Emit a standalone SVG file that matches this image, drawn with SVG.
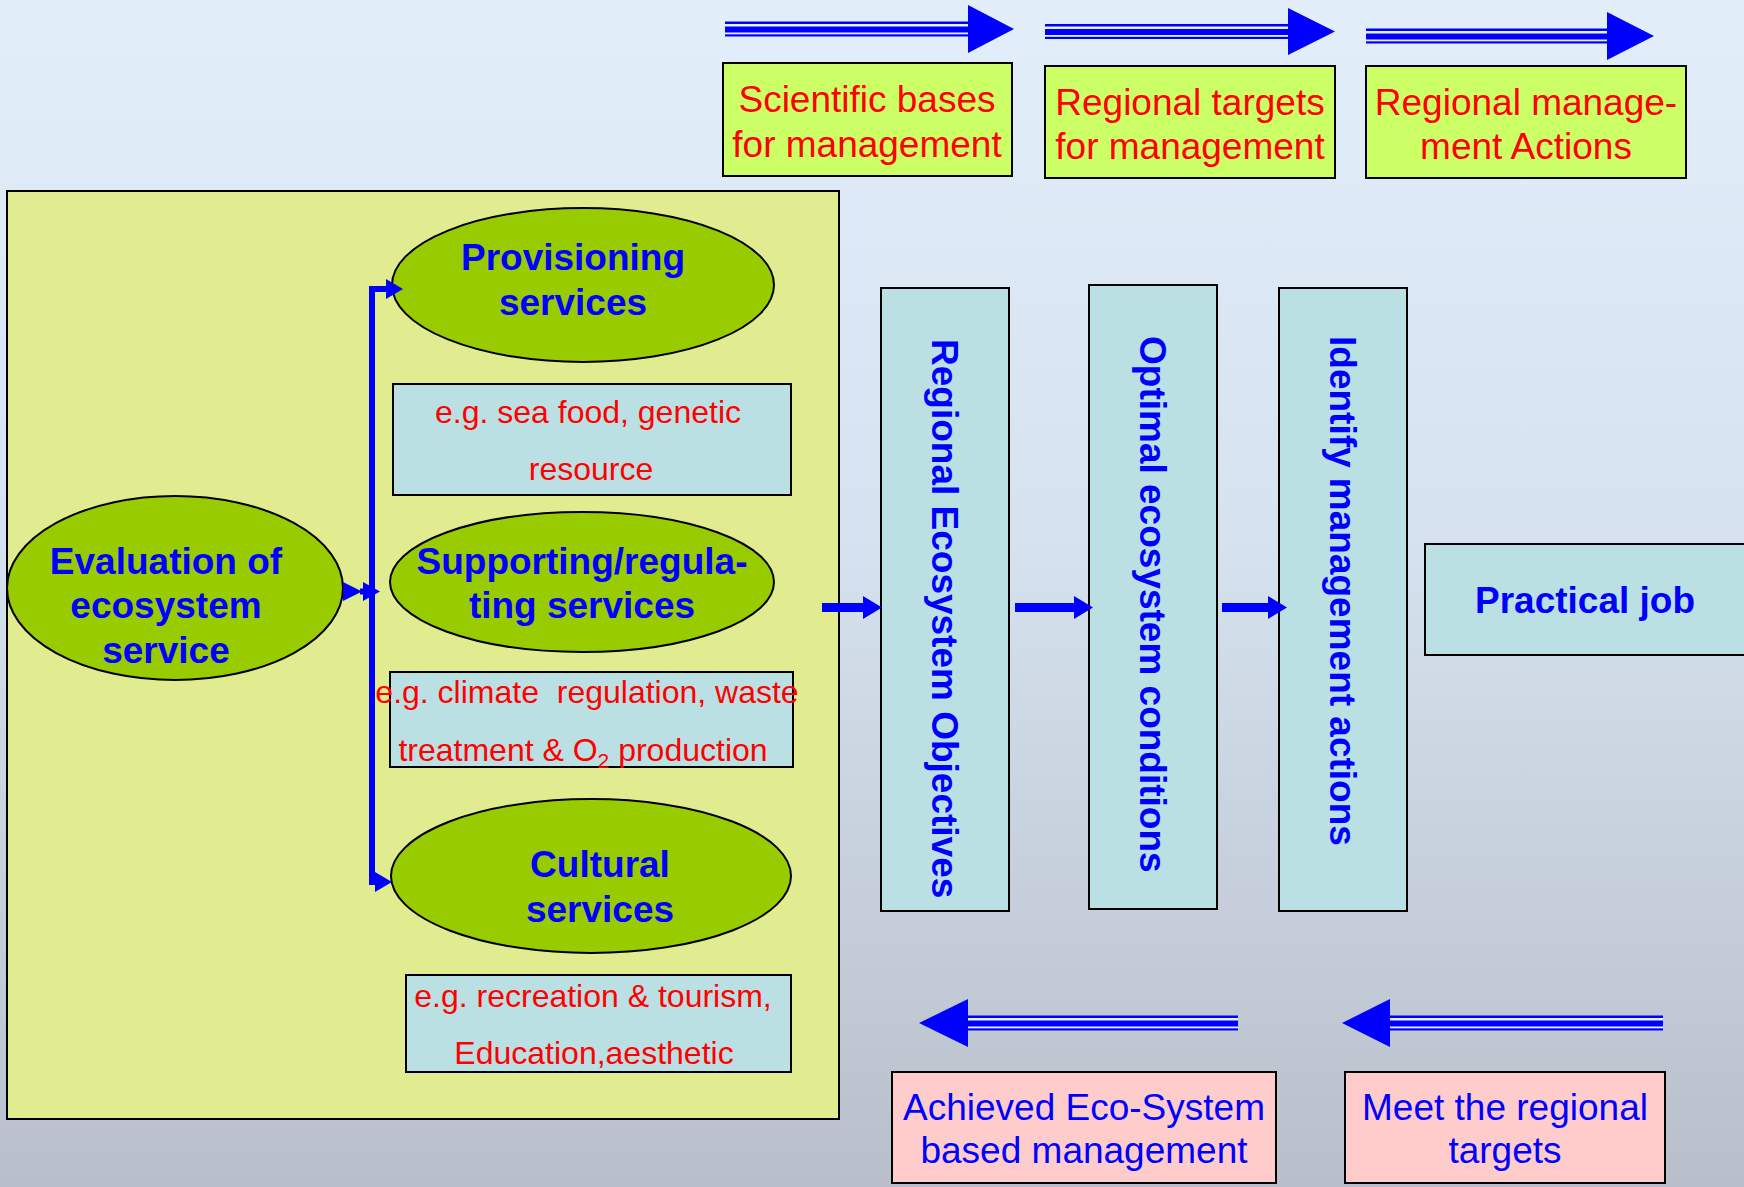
<svg xmlns="http://www.w3.org/2000/svg" width="1744" height="1187" viewBox="0 0 1744 1187">
<defs>
<linearGradient id="bg" x1="0" y1="0" x2="0" y2="1">
<stop offset="0" stop-color="#e2eefa"/>
<stop offset="0.45" stop-color="#d6e2ef"/>
<stop offset="1" stop-color="#b8bfca"/>
</linearGradient>
<style>
.t{font-family:"Liberation Sans",Arial,sans-serif;}
.red{fill:#ff0000;font-size:37px;text-anchor:middle;}
.ex{fill:#ff0000;font-size:32px;text-anchor:middle;}
.bb{fill:#0000ff;font-size:37px;font-weight:bold;text-anchor:middle;}
.bn{fill:#0000ff;font-size:37px;text-anchor:middle;}
.vt{fill:#0000ff;font-size:37px;font-weight:bold;}
.ell{fill:#99cc00;stroke:#000;stroke-width:2;}
.lb{fill:#bbe0e3;stroke:#000;stroke-width:2;}
.yg{fill:#ccff66;stroke:#000;stroke-width:2;}
.pk{fill:#ffcccc;stroke:#000;stroke-width:2;}
.blue{fill:#0000ff;}
.gap{fill:#e8f0fb;}
.ln{stroke:#0000ff;stroke-width:6;fill:none;}
</style>
</defs>
<rect width="1744" height="1187" fill="url(#bg)"/>

<g id="panel">
<rect x="7" y="191" width="832" height="928" fill="#e1eb8f" stroke="#000" stroke-width="2"/>
</g>

<g id="scientific">
<rect class="yg" x="723" y="63" width="289" height="113"/>
<text class="t red" x="867" y="112">Scientific bases</text>
<text class="t red" x="867" y="157">for management</text>
</g>
<g id="regional-targets">
<rect class="yg" x="1045" y="66" width="290" height="112"/>
<text class="t red" x="1190" y="115">Regional targets</text>
<text class="t red" x="1190" y="159">for management</text>
</g>
<g id="regional-actions">
<rect class="yg" x="1366" y="66" width="320" height="112"/>
<text class="t red" x="1526" y="115">Regional manage-</text>
<text class="t red" x="1526" y="159">ment Actions</text>
</g>

<g id="evaluation">
<ellipse class="ell" cx="175" cy="588" rx="168" ry="92"/>
<text class="t bb" x="166" y="574">Evaluation of</text>
<text class="t bb" x="166" y="618">ecosystem</text>
<text class="t bb" x="166" y="663">service</text>
</g>
<g id="provisioning">
<ellipse class="ell" cx="583" cy="285" rx="191" ry="77"/>
<text class="t bb" x="573" y="270">Provisioning</text>
<text class="t bb" x="573" y="315">services</text>
</g>
<g id="prov-example">
<rect class="lb" x="393" y="384" width="398" height="111"/>
<text class="t ex" x="588" y="423">e.g. sea food, genetic</text>
<text class="t ex" x="591" y="480">resource</text>
</g>
<g id="supporting">
<ellipse class="ell" cx="582" cy="582" rx="192" ry="70"/>
<text class="t bb" x="582" y="574">Supporting/regula-</text>
<text class="t bb" x="582" y="618">ting services</text>
</g>
<g id="supp-example">
<rect class="lb" x="390" y="672" width="403" height="95"/>
<text class="t ex" x="587" y="703" xml:space="preserve">e.g. climate  regulation, waste</text>
<text class="t ex" x="583" y="761">treatment &amp; O<tspan font-size="21" dy="7">2</tspan><tspan dy="-7"> production</tspan></text>
</g>
<g id="cultural">
<ellipse class="ell" cx="591" cy="876" rx="200" ry="77"/>
<text class="t bb" x="600" y="877">Cultural</text>
<text class="t bb" x="600" y="922">services</text>
</g>
<g id="cult-example">
<rect class="lb" x="406" y="975" width="385" height="97"/>
<text class="t ex" x="593" y="1007">e.g. recreation &amp; tourism,</text>
<text class="t ex" x="594" y="1064">Education,aesthetic</text>
</g>

<g id="objectives">
<rect class="lb" x="881" y="288" width="128" height="623"/>
<text class="t vt" transform="translate(945,339) rotate(90)" x="0" y="13">Regional Ecosystem Objectives</text>
</g>
<g id="conditions">
<rect class="lb" x="1089" y="285" width="128" height="624"/>
<text class="t vt" transform="translate(1153,336) rotate(90)" x="0" y="13">Optimal ecosystem conditions</text>
</g>
<g id="actions">
<rect class="lb" x="1279" y="288" width="128" height="623"/>
<text class="t vt" transform="translate(1343,336) rotate(90)" x="0" y="13">Identify management actions</text>
</g>
<g id="practical">
<rect class="lb" x="1425" y="544" width="330" height="111"/>
<text class="t vt" x="1475" y="613">Practical job</text>
</g>

<g id="achieved">
<rect class="pk" x="892" y="1072" width="384" height="111"/>
<text class="t bn" x="1084" y="1120">Achieved Eco-System</text>
<text class="t bn" x="1084" y="1163">based management</text>
</g>
<g id="meet">
<rect class="pk" x="1345" y="1072" width="320" height="111"/>
<text class="t bn" x="1505" y="1120">Meet the regional</text>
<text class="t bn" x="1505" y="1163">targets</text>
</g>

<g id="connectors">
<!-- top double arrows -->
<g>
<rect class="blue" x="725" y="21.5" width="245" height="15"/>
<rect class="gap" x="725" y="24" width="245" height="2.5"/>
<rect class="gap" x="725" y="32.5" width="245" height="1.8"/>
<polygon class="blue" points="968,5 1014,29 968,53"/>
</g>
<g>
<rect class="blue" x="1045" y="24" width="245" height="15"/>
<rect class="gap" x="1045" y="26.5" width="245" height="2.5"/>
<rect class="gap" x="1045" y="35" width="245" height="1.8"/>
<polygon class="blue" points="1288,8 1335,31.5 1288,55"/>
</g>
<g>
<rect class="blue" x="1366" y="28.5" width="243" height="15"/>
<rect class="gap" x="1366" y="31" width="243" height="2.5"/>
<rect class="gap" x="1366" y="39.5" width="243" height="1.8"/>
<polygon class="blue" points="1607,12 1654,36 1607,60"/>
</g>
<!-- bottom double arrows -->
<g>
<rect class="blue" x="966" y="1015.5" width="272" height="15"/>
<rect class="gap" x="966" y="1018" width="272" height="2.5"/>
<rect class="gap" x="966" y="1026.5" width="272" height="1.8"/>
<polygon class="blue" points="968,999 919,1023 968,1047"/>
</g>
<g>
<rect class="blue" x="1388" y="1015.5" width="275" height="15"/>
<rect class="gap" x="1388" y="1018" width="275" height="2.5"/>
<rect class="gap" x="1388" y="1026.5" width="275" height="1.8"/>
<polygon class="blue" points="1390,999 1342,1023 1390,1047"/>
</g>
<!-- left tree connector -->
<path class="ln" d="M372,286 V885"/>
<path class="ln" d="M369,289 H388"/>
<polygon class="blue" points="386,279 403,289 386,299"/>
<path class="ln" d="M372,882 H377"/>
<polygon class="blue" points="375,872 392,882 375,892"/>
<polygon class="blue" points="343,582 362,591.5 343,601"/>
<rect class="blue" x="360" y="588.5" width="6" height="6"/>
<polygon class="blue" points="363,582 380,591.5 363,601"/>
<!-- right flow arrows -->
<rect class="blue" x="822" y="603" width="43" height="9"/>
<polygon class="blue" points="863,596 882,607.5 863,619"/>
<rect class="blue" x="1015" y="603" width="62" height="9"/>
<polygon class="blue" points="1074,596 1093,607.5 1074,619"/>
<rect class="blue" x="1222" y="603" width="49" height="9"/>
<polygon class="blue" points="1268,596 1287,607.5 1268,619"/>
</g>
</svg>
